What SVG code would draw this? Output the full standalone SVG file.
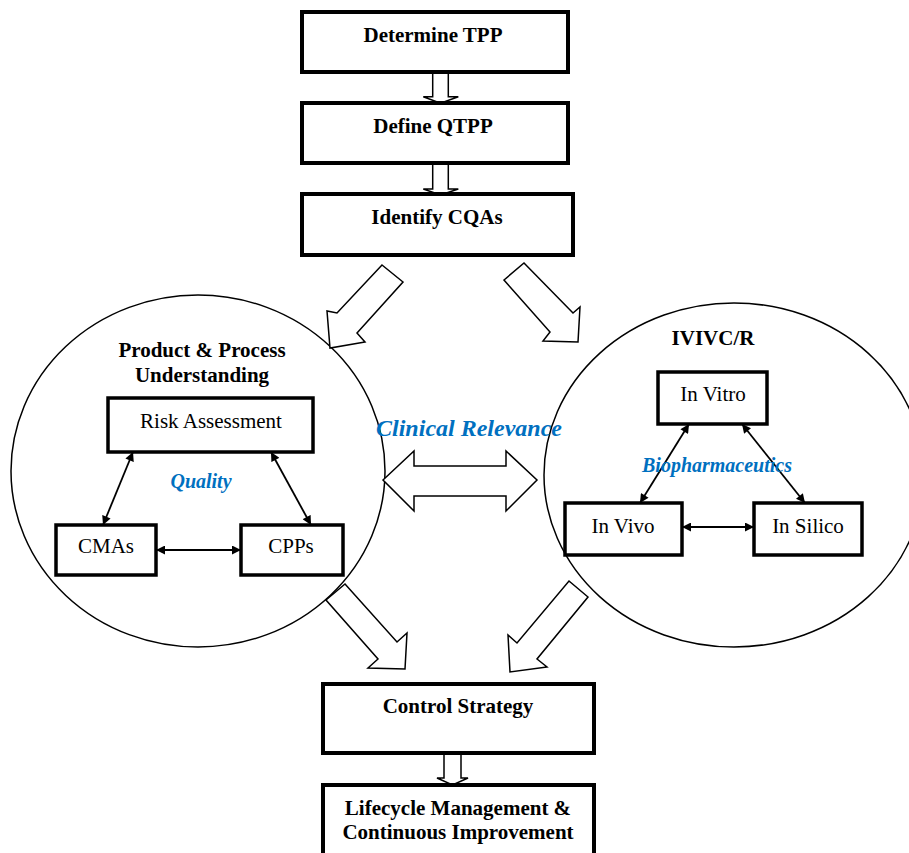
<svg xmlns="http://www.w3.org/2000/svg" width="909" height="853" viewBox="0 0 909 853">
<defs>
<style>
.box{fill:#fff;stroke:#000;stroke-width:4}
.ibox{fill:#fff;stroke:#000;stroke-width:3.5}
.circ{fill:none;stroke:#000;stroke-width:1.5}
.blk{fill:#fff;stroke:#000;stroke-width:1.5;stroke-linejoin:miter}
.t{font-family:"Liberation Serif","Times New Roman",serif;font-size:21px;fill:#000;text-anchor:middle}
.b{font-weight:bold}
.blue{font-family:"Liberation Serif","Times New Roman",serif;font-weight:bold;font-style:italic;fill:#0070C0;text-anchor:middle}
.dl{stroke:#000;stroke-width:1.8;fill:none;marker-start:url(#ah);marker-end:url(#ah)}
</style>
<marker id="ah" viewBox="0 0 10 10" refX="10" refY="5" markerWidth="10" markerHeight="9" orient="auto-start-reverse" markerUnits="userSpaceOnUse">
<path d="M0,0 L10,5 L0,10 z" fill="#000"/>
</marker>
</defs>
<rect width="909" height="853" fill="#fff"/>

<g id="circle-left"><ellipse class="circ" cx="198" cy="471" rx="187" ry="176"/></g>
<g id="circle-right"><ellipse class="circ" cx="734" cy="475" rx="190" ry="172"/></g>

<g id="connectors">
<polygon class="blk" points="432.7,72 448.3,72 448.3,96.7 458.3,96.7 440.5,103.3 423.3,96.7 432.7,96.7"/>
<polygon class="blk" points="432.7,163 448.3,163 448.3,189 458.3,189 440.5,195 423.3,189 432.7,189"/>
<polygon class="blk" points="444,753 461,753 461,778 468,778 452.5,785 437,778 444,778"/>
<polygon class="blk" points="382,265 403,282 357,333 365,342 330,348 327,311 337,313"/>
<polygon class="blk" points="524,263 573,313 580,307 578,342 543,341 550,332 504,280"/>
<polygon class="blk" points="345,584 397,642 407,633 405,669 368,668 378,659 326,600"/>
<polygon class="blk" points="569,581 588,597 537,659 547,667 510,672 508,635 517,643"/>
<polygon class="blk" points="383,480 414,451 414,466 506,466 506,451 537,480 506,511 506,496 414,496 414,511"/>
<line class="dl" x1="133" y1="452" x2="103" y2="525"/>
<line class="dl" x1="271" y1="452" x2="311" y2="525"/>
<line class="dl" x1="156" y1="550" x2="241" y2="550"/>
<line class="dl" x1="689" y1="424" x2="640" y2="503"/>
<line class="dl" x1="742" y1="424" x2="805" y2="503"/>
<line class="dl" x1="682" y1="527" x2="754" y2="527"/>
</g>

<g id="n-tpp"><rect class="box" x="302" y="12" width="266" height="60"/><text class="t b" x="433" y="42">Determine TPP</text></g>
<g id="n-qtpp"><rect class="box" x="302" y="103" width="266" height="60"/><text class="t b" x="433" y="133">Define QTPP</text></g>
<g id="n-cqa"><rect class="box" x="302" y="194" width="271" height="61"/><text class="t b" x="437" y="224">Identify CQAs</text></g>

<g id="n-ppu">
<text class="t b" x="202" y="357">Product &amp; Process</text>
<text class="t b" x="202" y="382">Understanding</text>
</g>
<g id="n-risk"><rect class="ibox" x="108" y="398" width="205" height="54"/><text class="t" x="211" y="428">Risk Assessment</text></g>
<g id="n-quality"><text class="blue" font-size="20" x="201" y="488">Quality</text></g>
<g id="n-cma"><rect class="ibox" x="56" y="525" width="100" height="50"/><text class="t" x="106" y="553">CMAs</text></g>
<g id="n-cpp"><rect class="ibox" x="241" y="525" width="102" height="50"/><text class="t" x="291" y="553">CPPs</text></g>

<g id="n-clinical"><text class="blue" font-size="24" x="469" y="436">Clinical Relevance</text></g>

<g id="n-ivivc"><text class="t b" x="713" y="345">IVIVC/R</text></g>
<g id="n-vitro"><rect class="ibox" x="658" y="372" width="109" height="52"/><text class="t" x="713" y="401">In Vitro</text></g>
<g id="n-bio"><text class="blue" font-size="20" x="717" y="472">Biopharmaceutics</text></g>
<g id="n-vivo"><rect class="ibox" x="565" y="503" width="117" height="52"/><text class="t" x="623" y="533">In Vivo</text></g>
<g id="n-silico"><rect class="ibox" x="754" y="503" width="108" height="52"/><text class="t" x="808" y="533">In Silico</text></g>

<g id="n-control"><rect class="box" x="323" y="684" width="271" height="69"/><text class="t b" x="458" y="713">Control Strategy</text></g>
<g id="n-lifecycle"><rect class="box" x="323" y="785" width="271" height="75"/><text class="t b" x="458" y="815">Lifecycle Management &amp;</text><text class="t b" x="458" y="839">Continuous Improvement</text></g>
</svg>
